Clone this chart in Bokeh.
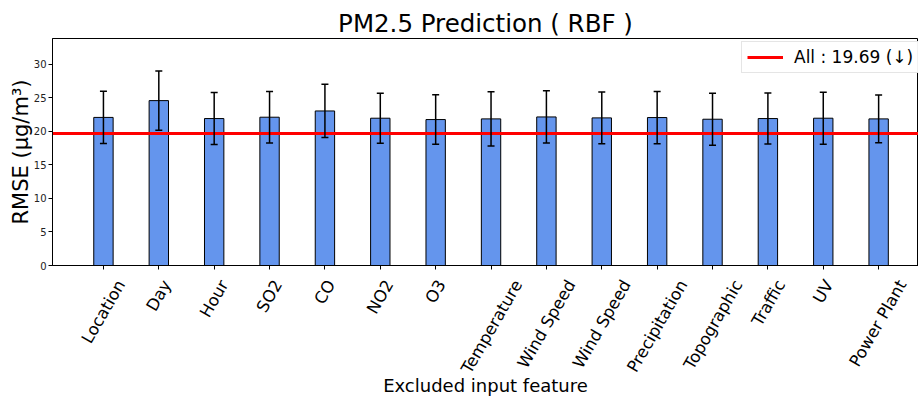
import math
from bokeh.plotting import figure
from bokeh.models import (ColumnDataSource, Whisker, TeeHead, FixedTicker,
                          Range1d, LinearAxis)
from bokeh.embed import file_html
from bokeh.resources import INLINE

# ---- data ----
features = ["Location", "Day", "Hour", "SO2", "CO", "NO2", "O3", "Temperature",
            "Wind Speed", "Wind Speed", "Precipitation", "Topographic", "Traffic",
            "UV", "Power Plant"]
rmse = [22.05, 24.55, 21.88, 22.08, 23.01, 21.93, 21.73, 21.83,
        22.12, 21.98, 22.03, 21.78, 21.88, 21.93, 21.83]
rmse_err = [3.90, 4.40, 3.87, 3.84, 3.96, 3.72, 3.68, 4.03,
            3.89, 3.84, 3.89, 3.86, 3.79, 3.88, 3.57]
all_rmse = 19.69
y_ticks = [0, 5, 10, 15, 20, 25, 30]

FONT = "DejaVu Sans"
LABEL_PX = 16.5
Y_MIN, Y_MAX = 0, 33.8
X_MIN, X_MAX = -0.92, 14.72

W, H = 918, 398
BL, BR, BT, BB = 52, 0, 38, 131
frame_w = W - BL - BR
frame_h = H - BT - BB
ppx = frame_w / (X_MAX - X_MIN)   # pixels per x unit

# approximate DejaVu Sans advance widths (em)
CW = {'L': .557, 'D': .77, 'H': .752, 'S': .635, 'O': .787, 'C': .698, 'N': .748,
      'T': .611, 'W': .989, 'P': .603, 'U': .732, 'V': .684,
      'o': .612, 'c': .55, 'a': .613, 't': .392, 'i': .278, 'n': .634, 'y': .592,
      'u': .634, 'r': .411, 'e': .615, 'm': .974, 'p': .635, 'd': .635, 's': .521,
      'h': .634, 'g': .635, 'f': .352, 'l': .278, ' ': .318}


def text_len(s):
    return sum(CW.get(ch, 0.636) for ch in s) * LABEL_PX


ang = math.pi / 3
xs = list(range(len(features)))
# label anchor positions: shift so that the rotated label is centred under its tick
label_x = [round(x + (text_len(f) * math.cos(ang) / 2) / ppx, 6)
           for x, f in zip(xs, features)]

src = ColumnDataSource(dict(
    x=xs, top=rmse,
    upper=[v + e for v, e in zip(rmse, rmse_err)],
    lower=[v - e for v, e in zip(rmse, rmse_err)],
))

p = figure(width=W, height=H, output_backend="svg", toolbar_location=None,
           x_range=Range1d(X_MIN, X_MAX), y_range=Range1d(Y_MIN, Y_MAX),
           min_border_left=BL, min_border_right=BR, min_border_top=BT,
           min_border_bottom=BB, title="PM2.5 Prediction ( RBF )")
p.title.align = "center"
p.title.text_font = FONT
p.title.text_font_size = "24.5px"
p.title.text_font_style = "normal"
p.title.text_color = "black"
p.title.standoff = 2
p.outline_line_color = "black"
p.outline_line_width = 1
p.xgrid.visible = False
p.ygrid.visible = False

p.vbar(x="x", top="top", width=0.35, source=src, fill_color="#6495ED",
       line_color="black", line_width=1)

p.hspan(y=[all_rmse], line_color="red", line_width=3,
        legend_label="All : 19.69 (\u2193)")

wh = Whisker(base="x", upper="upper", lower="lower", source=src,
             line_color="black", line_width=1.5, level="annotation",
             upper_head=TeeHead(size=7, line_width=1.5, line_color="black"),
             lower_head=TeeHead(size=7, line_width=1.5, line_color="black"))
p.add_layout(wh)

# tick axis (marks only)
p.xaxis.ticker = FixedTicker(ticks=xs)
p.xaxis.major_label_overrides = {i: "" for i in xs}
p.xaxis.major_label_text_font_size = "1px"
p.xaxis.major_label_standoff = 0
p.xaxis.major_tick_in = 0
p.xaxis.major_tick_out = 4
p.xaxis.minor_tick_line_color = None
p.xaxis.axis_line_color = "black"
p.xaxis.major_tick_line_color = "black"

# label axis (rotated names)
lab_axis = LinearAxis(ticker=FixedTicker(ticks=label_x),
                      major_label_overrides={lx: f for lx, f in zip(label_x, features)},
                      major_label_orientation=ang,
                      major_label_text_font=FONT,
                      major_label_text_font_size=f"{LABEL_PX}px",
                      major_label_text_color="black",
                      major_label_standoff=12,
                      axis_line_color=None, major_tick_line_color=None,
                      minor_tick_line_color=None,
                      major_tick_out=0, major_tick_in=0,
                      axis_label="Excluded input feature",
                      axis_label_text_font=FONT,
                      axis_label_text_font_size="18px",
                      axis_label_text_font_style="normal",
                      axis_label_text_color="black",
                      axis_label_standoff=-10)
p.add_layout(lab_axis, "below")

p.yaxis.ticker = FixedTicker(ticks=y_ticks)
p.yaxis.axis_label = "RMSE (\u03bcg/m\u00b3)"
p.yaxis.axis_label_text_font = FONT
p.yaxis.axis_label_text_font_size = "21px"
p.yaxis.axis_label_text_font_style = "normal"
p.yaxis.axis_label_text_color = "black"
p.yaxis.axis_label_standoff = -2
p.yaxis.major_label_text_font = FONT
p.yaxis.major_label_text_font_size = "10px"
p.yaxis.major_label_text_color = "#222222"
p.yaxis.major_tick_in = 0
p.yaxis.major_tick_out = 4
p.yaxis.minor_tick_line_color = None
p.yaxis.major_label_standoff = 2
p.yaxis.axis_line_color = "black"
p.yaxis.major_tick_line_color = "black"

# legend: top 7px below frame top, left edge at 689px from frame left
LEG_H = 30
p.legend.location = (689, frame_h - 7 - LEG_H)
p.legend.label_text_font = FONT
p.legend.label_text_font_size = "17px"
p.legend.label_text_color = "black"
p.legend.glyph_width = 36
p.legend.glyph_height = 20
p.legend.label_height = 20
p.legend.border_line_color = "#cccccc"
p.legend.border_line_width = 1
p.legend.margin = 0
p.legend.padding = 5
p.legend.label_standoff = 11
p.legend.spacing = 0

open("out.html", "w").write(file_html(p, INLINE))
